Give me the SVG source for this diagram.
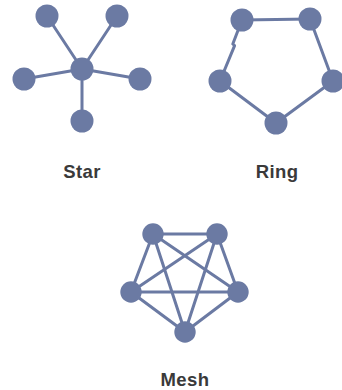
<svg xmlns="http://www.w3.org/2000/svg" width="342" height="390" viewBox="0 0 342 390">
  <style>
    .edge { stroke: #6b7aa3; stroke-width: 3; fill: none; stroke-linecap: round; stroke-linejoin: round; }
    .node { fill: #6b7aa3; }
    .label { font-family: "Liberation Sans", Arial, sans-serif; font-weight: bold; font-size: 18.5px; letter-spacing: 0.4px; fill: #3a3a3a; text-anchor: middle; }
  </style>
  <rect width="342" height="390" fill="#ffffff"/>

  <!-- connectors -->
  <g id="connectors">
    <!-- star: hub to each leaf -->
    <g id="star-edges" class="edge">
      <line x1="82" y1="69" x2="47" y2="16"/>
      <line x1="82" y1="69" x2="117" y2="16"/>
      <line x1="82" y1="69" x2="24" y2="79"/>
      <line x1="82" y1="69" x2="140" y2="79"/>
      <line x1="82" y1="69" x2="82" y2="121"/>
    </g>
    <!-- ring: closed loop -->
    <g id="ring-edges" class="edge">
      <line x1="242" y1="20" x2="310" y2="19"/>
      <line x1="310" y1="19" x2="333" y2="81"/>
      <line x1="333" y1="81" x2="276" y2="123"/>
      <line x1="276" y1="123" x2="220" y2="81"/>
      <polyline points="242,20 232.8,44 234.6,45.6 220,81"/>
    </g>
    <!-- mesh: every pair connected -->
    <g id="mesh-edges" class="edge">
      <line x1="153" y1="234" x2="217" y2="234"/>
      <line x1="153" y1="234" x2="131" y2="292"/>
      <line x1="153" y1="234" x2="238" y2="292"/>
      <line x1="153" y1="234" x2="185" y2="332"/>
      <line x1="217" y1="234" x2="131" y2="292"/>
      <line x1="217" y1="234" x2="238" y2="292"/>
      <line x1="217" y1="234" x2="185" y2="332"/>
      <line x1="131" y1="292" x2="238" y2="292"/>
      <line x1="131" y1="292" x2="185" y2="332"/>
      <line x1="238" y1="292" x2="185" y2="332"/>
    </g>
  </g>

  <!-- star nodes -->
  <g id="star">
    <g id="star-hub"><circle class="node" cx="82" cy="69" r="11.5"/></g>
    <g id="star-top-left"><circle class="node" cx="47" cy="16" r="11.5"/></g>
    <g id="star-top-right"><circle class="node" cx="117" cy="16" r="11.5"/></g>
    <g id="star-left"><circle class="node" cx="24" cy="79" r="11.5"/></g>
    <g id="star-right"><circle class="node" cx="140" cy="79" r="11.5"/></g>
    <g id="star-bottom"><circle class="node" cx="82" cy="121" r="11.5"/></g>
    <text class="label" x="82" y="178">Star</text>
  </g>

  <!-- ring nodes -->
  <g id="ring">
    <g id="ring-top-left"><circle class="node" cx="242" cy="20" r="11.5"/></g>
    <g id="ring-top-right"><circle class="node" cx="310" cy="19" r="11.5"/></g>
    <g id="ring-left"><circle class="node" cx="220" cy="81" r="11.5"/></g>
    <g id="ring-right"><circle class="node" cx="333" cy="81" r="11.5"/></g>
    <g id="ring-bottom"><circle class="node" cx="276" cy="123" r="11.5"/></g>
    <text class="label" x="277" y="178">Ring</text>
  </g>

  <!-- mesh nodes -->
  <g id="mesh">
    <g id="mesh-top-left"><circle class="node" cx="153" cy="234" r="10.7"/></g>
    <g id="mesh-top-right"><circle class="node" cx="217" cy="234" r="10.7"/></g>
    <g id="mesh-left"><circle class="node" cx="131" cy="292" r="10.7"/></g>
    <g id="mesh-right"><circle class="node" cx="238" cy="292" r="10.7"/></g>
    <g id="mesh-bottom"><circle class="node" cx="185" cy="332" r="10.7"/></g>
    <text class="label" x="185" y="386">Mesh</text>
  </g>
</svg>
